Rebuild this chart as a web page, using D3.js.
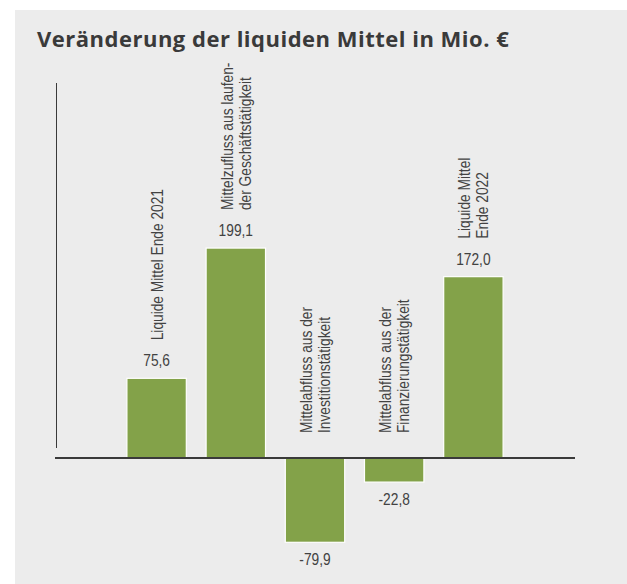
<!DOCTYPE html>
<html>
<head>
<meta charset="utf-8">
<script src="https://cdn.jsdelivr.net/npm/d3@7"></script>
<style>
  body { margin: 0; background: #ffffff; }
  svg text { fill: #424242; }
</style>
</head>
<body>
<svg id="chart" width="627" height="584"></svg>
<script>
// chart data
var categories = [
  ["Liquide Mittel Ende 2021"],
  ["Mittelzufluss aus laufen-", "der Geschäftstätigkeit"],
  ["Mittelabfluss aus der", "Investitionstätigkeit"],
  ["Mittelabfluss aus der", "Finanzierungstätigkeit"],
  ["Liquide Mittel", "Ende 2022"]
];
var values = [75.6, 199.1, -79.9, -22.8, 172.0];
var titleText = "Veränderung der liquiden Mittel in Mio. €";

var svg = d3.select("#chart");
var labelFont = "'Liberation Sans', Arial, sans-serif";
var narrow = 0.86; // condensed look

// grey panel
svg.append("rect")
  .attr("x", 15)
  .attr("y", 10)
  .attr("width", 612)
  .attr("height", 574)
  .attr("fill", "#ececec");

svg.append("text")
  .attr("x", 37)
  .attr("y", 47)
  .style("font-family", "'Open Sans', sans-serif")
  .style("font-weight", "bold")
  .style("font-size", "22px")
  .style("letter-spacing", "0.5px")
  .style("fill", "#3a3a3a")
  .text(titleText);

var data = categories.map(function (c, i) {
  return { label: c, value: values[i], idx: i };
});

var x = d3.scaleBand()
  .domain(d3.range(data.length))
  .range([55, 575])
  .paddingInner(0.25)
  .paddingOuter(0.908);

var y = d3.scaleLinear()
  .domain([-100, 250])
  .range([563.5, 194.4]);

var fmt = function (v) {
  return d3.format(".1f")(v).replace(".", ",").replace("\u2212", "-");
};

var plot = svg.append("g");

// y axis line (no ticks)
plot.append("line")
  .attr("x1", 56.5)
  .attr("x2", 56.5)
  .attr("y1", 83)
  .attr("y2", 448)
  .attr("stroke", "#3a3a3a")
  .attr("stroke-width", 1);

// bars
plot.selectAll("rect.bar")
  .data(data)
  .enter()
  .append("rect")
  .attr("class", "bar")
  .attr("x", function (d) { return x(d.idx); })
  .attr("width", x.bandwidth())
  .attr("y", function (d) { return y(Math.max(0, d.value)); })
  .attr("height", function (d) { return Math.abs(y(d.value) - y(0)); })
  .attr("fill", "#83a249")
  .attr("stroke", "#ffffff")
  .attr("stroke-width", 1.2);

// zero line
plot.append("line")
  .attr("x1", 55)
  .attr("x2", 575)
  .attr("y1", y(0))
  .attr("y2", y(0))
  .attr("stroke", "#3a3a3a")
  .attr("stroke-width", 2);

// value labels
plot.selectAll("g.value")
  .data(data)
  .enter()
  .append("g")
  .attr("class", "value")
  .attr("transform", function (d) {
    var cx = x(d.idx) + x.bandwidth() / 2;
    var yy = d.value >= 0 ? y(d.value) - 12 : y(d.value) + 23;
    return "translate(" + cx + "," + yy + ") scale(" + narrow + ",1)";
  })
  .append("text")
  .attr("text-anchor", "middle")
  .style("font-family", labelFont)
  .style("font-size", "16px")
  .text(function (d) { return fmt(d.value); });

// rotated category labels
var catGroups = plot.selectAll("g.cat")
  .data(data)
  .enter()
  .append("g")
  .attr("class", "cat")
  .attr("transform", function (d) {
    var cx = x(d.idx) + x.bandwidth() / 2;
    var start = d.value >= 0 ? y(d.value) - 38 : y(0) - 25;
    return "translate(" + cx + "," + start + ") rotate(-90) scale(" + narrow + ",1)";
  });

catGroups.each(function (d) {
  var n = d.label.length;
  d3.select(this).selectAll("text")
    .data(d.label)
    .enter()
    .append("text")
    .attr("x", 0)
    .attr("y", function (t, j) { return (j - (n - 1) / 2) * 18; })
    .attr("dominant-baseline", "central")
    .style("font-family", labelFont)
    .style("font-size", "16px")
    .text(function (t) { return t; });
});
</script>
</body>
</html>
